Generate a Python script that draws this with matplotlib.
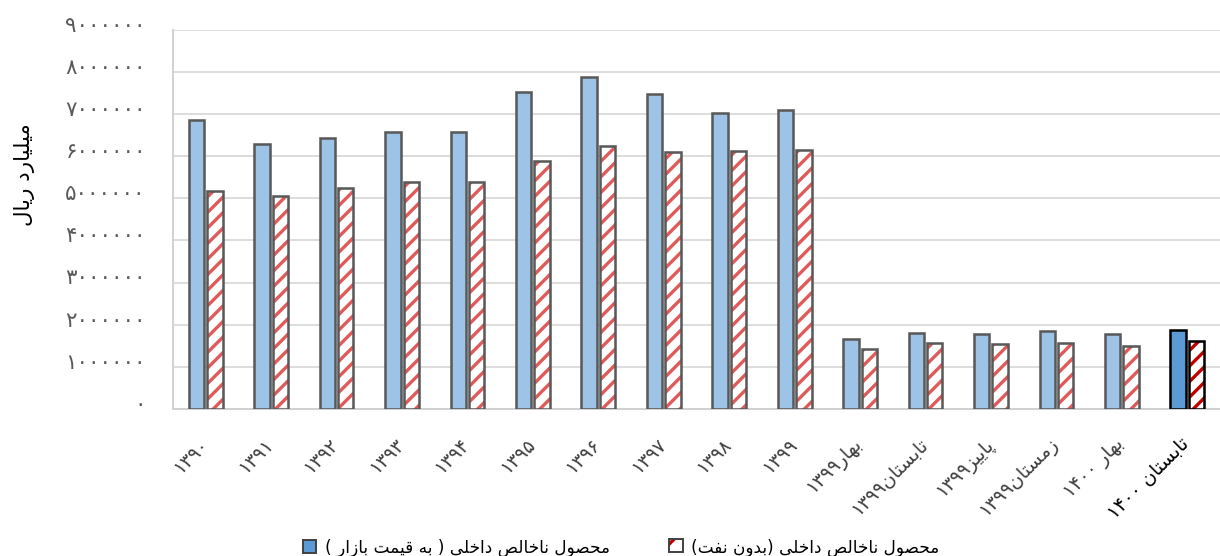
import numpy as np
import matplotlib
matplotlib.use("Agg")
import matplotlib.pyplot as plt
from matplotlib.patches import Patch, Rectangle
from matplotlib.transforms import ScaledTranslation

# values in billion rials
labels = ["1390", "1391", "1392", "1393", "1394", "1395", "1396", "1397", "1398", "1399",
          "بهار1399", "تابستان1399", "پاییز1399", "زمستان1399", "بهار 1400", "تابستان 1400"]
gdp_market = [6.86, 6.28, 6.43, 6.57, 6.57, 7.51, 7.87, 7.46, 7.01, 7.09,
              1.65, 1.80, 1.77, 1.85, 1.78, 1.87]
gdp_nonoil = [5.17, 5.05, 5.24, 5.38, 5.38, 5.88, 6.23, 6.09, 6.11, 6.14,
              1.43, 1.56, 1.53, 1.57, 1.50, 1.62]
gdp_market = np.array(gdp_market) * 1e6
gdp_nonoil = np.array(gdp_nonoil) * 1e6
yticks = np.arange(0, 9000001, 1000000)

ylabel = "میلیارد ریال"
leg1 = "محصول ناخالص داخلی ( به قیمت بازار )"
leg2 = "محصول ناخالص داخلی (بدون نفت)"

# --- poor man's arabic shaping + bidi (matplotlib has none) ---
DUAL = {0x628: 0xFE8F, 0x67E: 0xFB56, 0x62A: 0xFE95, 0x62D: 0xFEA1, 0x62E: 0xFEA5,
        0x633: 0xFEB1, 0x635: 0xFEB9, 0x641: 0xFED1, 0x642: 0xFED5, 0x644: 0xFEDD,
        0x645: 0xFEE1, 0x646: 0xFEE5, 0x647: 0xFEE9, 0x6CC: 0xFBFC}
RIGHT = {0x627: 0xFE8D, 0x62F: 0xFEA9, 0x631: 0xFEAD, 0x632: 0xFEAF, 0x648: 0xFEED}
MIRROR = {"(": ")", ")": "("}


def fa_digits(s):
    return s.translate(str.maketrans("0123456789", "۰۱۲۳۴۵۶۷۸۹"))


def shape(s):
    s = fa_digits(s)
    cps = [ord(c) for c in s]
    out = []
    for i, c in enumerate(cps):
        prev_j = i > 0 and cps[i - 1] in DUAL
        next_j = i + 1 < len(cps) and (cps[i + 1] in DUAL or cps[i + 1] in RIGHT)
        if c in DUAL:
            k = 3 if (prev_j and next_j) else 1 if prev_j else 2 if next_j else 0
            out.append(chr(DUAL[c] + k))
        elif c in RIGHT:
            out.append(chr(RIGHT[c] + (1 if prev_j else 0)))
        else:
            out.append(MIRROR.get(chr(c), chr(c)))
    # reverse for RTL, keep digit runs left-to-right
    out = out[::-1]
    res, run = [], []
    for ch in out:
        if "۰" <= ch <= "۹":
            run.append(ch)
        else:
            res.extend(run[::-1])
            run = []
            res.append(ch)
    res.extend(run[::-1])
    return "".join(res)


class HatchHandler:
    # hatched square with a dark outline for the legend
    def legend_artist(self, legend, orig_handle, fontsize, handlebox):
        x0, y0 = handlebox.xdescent, handlebox.ydescent
        w, h = handlebox.width, handlebox.height
        tr = handlebox.get_transform()
        r1 = Rectangle((x0, y0), w, h, facecolor="white", edgecolor="#C00000",
                       hatch="//", linewidth=0, transform=tr)
        r2 = Rectangle((x0, y0), w, h, facecolor="none", edgecolor="#404040",
                       linewidth=1.0, transform=tr)
        handlebox.add_artist(r1)
        handlebox.add_artist(r2)
        return r2


plt.rcParams["font.family"] = ["DejaVu Sans"]
plt.rcParams["hatch.linewidth"] = 1.7

DPI = 140
fig = plt.figure(figsize=(1220 / DPI, 556 / DPI), dpi=DPI)
ax = fig.add_axes([173 / 1220, 147 / 556, 1047 / 1220, 379.5 / 556])

x = np.arange(len(labels))
w = 0.235
off = 0.14
n = len(labels)
blue_face = ["#9DC3E6"] * (n - 1) + ["#5B9BD5"]
red_hatch = ["#E05A5A"] * (n - 1) + ["#C00000"]
edges = ["#595959"] * (n - 1) + ["#000000"]

ax.bar(x - off, gdp_market, w, color=blue_face, edgecolor=edges, linewidth=1.3, zorder=3)
for i in range(n):
    ax.bar(x[i] + off, gdp_nonoil[i], w, color="white", edgecolor=red_hatch[i],
           hatch="///", linewidth=0, zorder=3)
ax.bar(x + off, gdp_nonoil, w, color="none", edgecolor=edges, linewidth=1.3, zorder=4)

ax.set_xlim(-0.5, n - 0.5)
ax.set_ylim(0, 9000000)
ax.set_yticks(yticks)
ax.set_yticklabels([fa_digits(str(v)) for v in yticks], color="#595959", fontsize=11)
ax.yaxis.grid(True, color="#d9d9d9", linewidth=0.9)
ax.set_axisbelow(True)
for sp in ["top", "right"]:
    ax.spines[sp].set_visible(False)
for sp in ["left", "bottom"]:
    ax.spines[sp].set_color("#d0d0d0")
    ax.spines[sp].set_linewidth(1.0)
ax.tick_params(axis="both", length=0)
ax.tick_params(axis="y", pad=14)
ax.tick_params(axis="x", pad=13)
for t in ax.get_yticklabels():
    t.set_transform(t.get_transform() + ScaledTranslation(0, 6 / DPI, fig.dpi_scale_trans))

ax.set_xticks(x)
ax.set_xticklabels([shape(l) for l in labels], rotation=45, ha="right",
                   fontsize=9.8, color="#404040")
ax.get_xticklabels()[-1].set_color("black")
for t in ax.get_xticklabels():
    t.set_transform(t.get_transform() + ScaledTranslation(6 / DPI, 0, fig.dpi_scale_trans))

fig.text(25 / 1220, 1 - 175 / 556, shape(ylabel), rotation=90, ha="center", va="center",
         fontsize=11, color="black")

h1 = Patch(facecolor="#5B9BD5", edgecolor="#404040", linewidth=1.0)
h2 = Patch(facecolor="white", edgecolor="#C00000", hatch="//")
fig.legend([h1, h2], [shape(leg1), shape(leg2)],
           handler_map={h2: HatchHandler()},
           loc="center", bbox_to_anchor=(621 / 1220, 1 - 548 / 556), ncol=2,
           frameon=False, fontsize=8.7, handlelength=0.8, handleheight=0.8,
           handletextpad=0.5, columnspacing=3.5)

fig.savefig("out.png", dpi=DPI)
